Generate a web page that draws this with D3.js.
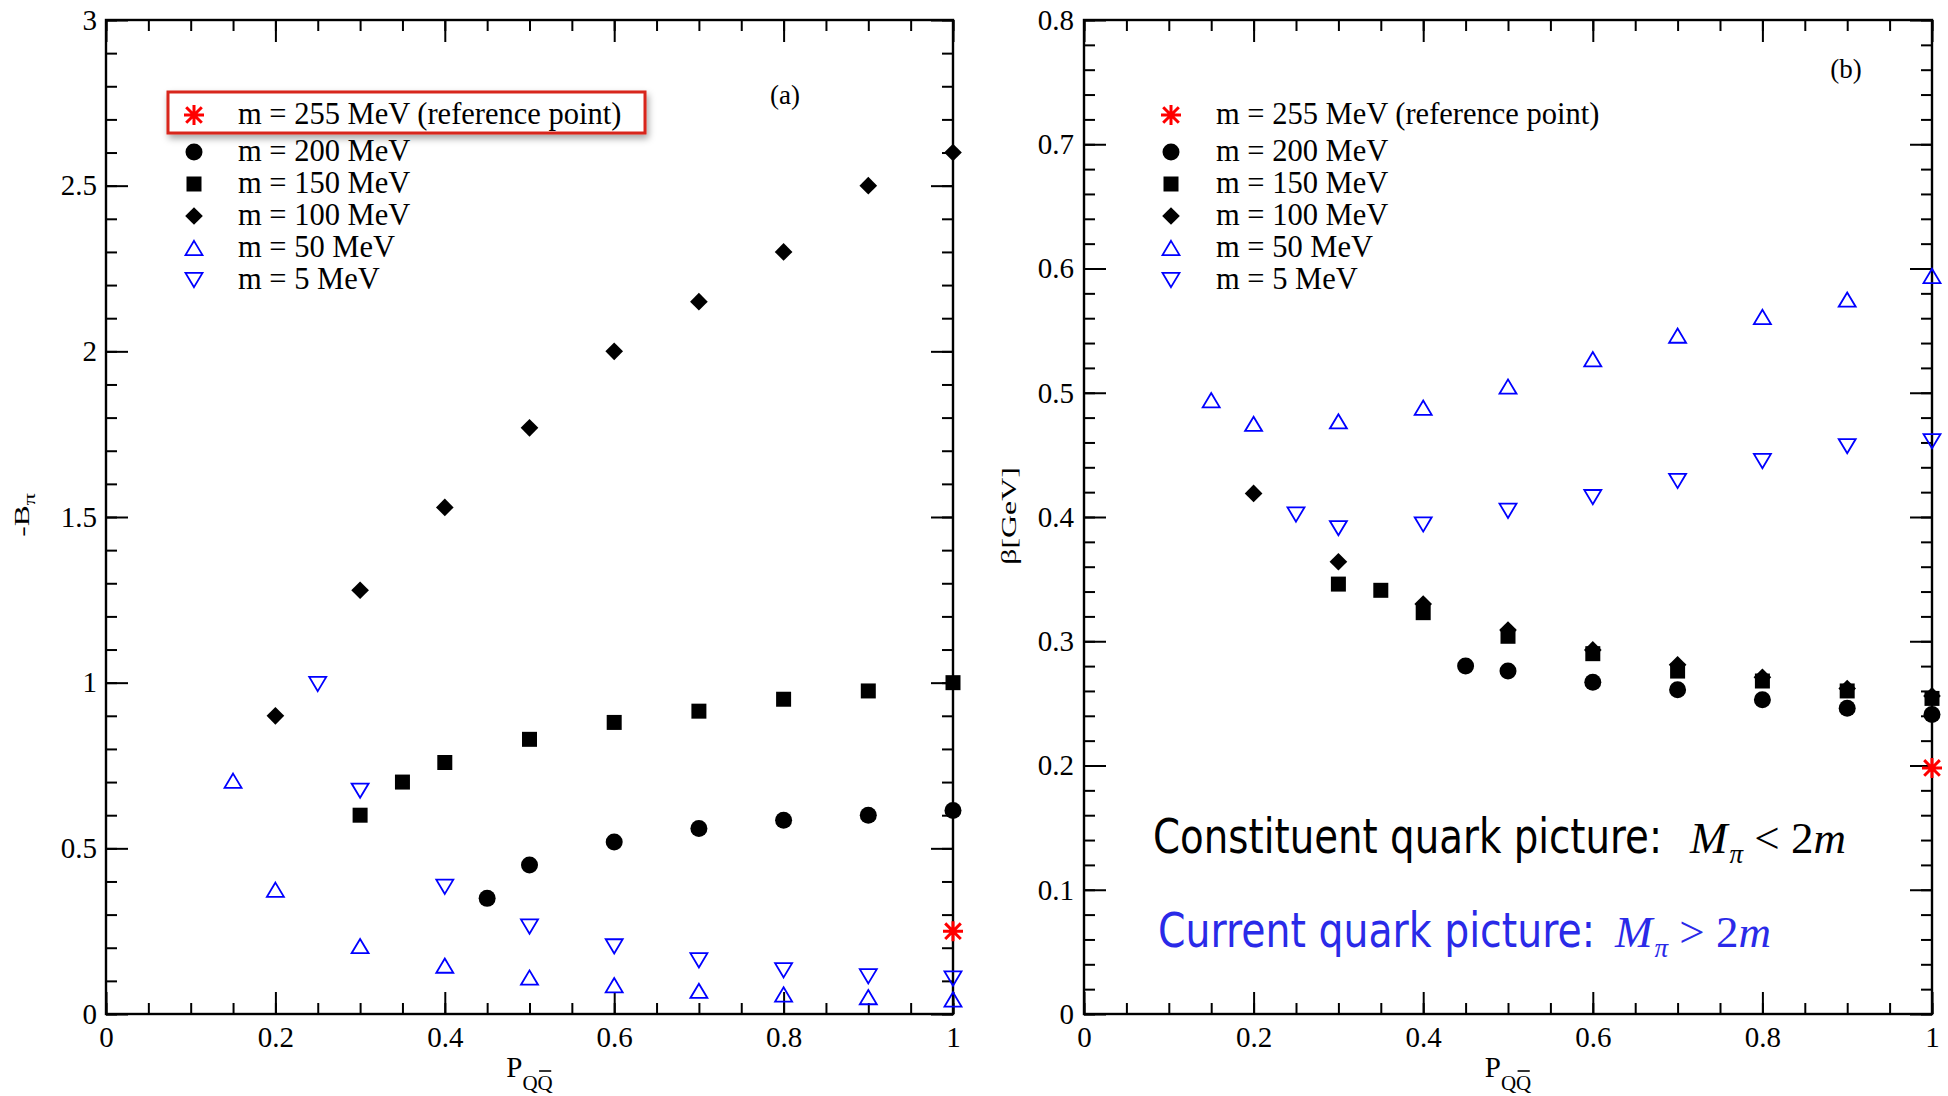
<!DOCTYPE html>
<html>
<head>
<meta charset="utf-8">
<script src="https://cdn.jsdelivr.net/npm/d3@7"></script>
<style>
  body { margin: 0; background: #fff; }
  svg { display: block; }
</style>
</head>
<body>
<svg id="chart" width="1948" height="1096"></svg>
<script>
const serif = "'Liberation Serif', 'Times New Roman', serif";

// legend text, top to bottom
const legendLabels = ["m = 255 MeV (reference point)", "m = 200 MeV", "m = 150 MeV",
                      "m = 100 MeV", "m = 50 MeV", "m = 5 MeV"];
const legendKeys = ["star", "m200", "m150", "m100", "m50", "m5"];

const xTicks = [0, 0.2, 0.4, 0.6, 0.8, 1];
const yTicksA = [0, 0.5, 1, 1.5, 2, 2.5, 3];
const yTicksB = [0, 0.1, 0.2, 0.3, 0.4, 0.5, 0.6, 0.7, 0.8];

// panel (a): -B_pi vs P_QQbar
const aStarX = [1.0];
const aStarY = [0.25];
const aM200X = [0.45, 0.5, 0.6, 0.7, 0.8, 0.9, 1.0];
const aM200Y = [0.349, 0.45, 0.519, 0.56, 0.585, 0.60, 0.614];
const aM150X = [0.3, 0.35, 0.4, 0.5, 0.6, 0.7, 0.8, 0.9, 1.0];
const aM150Y = [0.60, 0.70, 0.759, 0.829, 0.88, 0.914, 0.95, 0.975, 1.0];
const aM100X = [0.2, 0.3, 0.4, 0.5, 0.6, 0.7, 0.8, 0.9, 1.0];
const aM100Y = [0.90, 1.279, 1.529, 1.769, 2.0, 2.15, 2.30, 2.50, 2.60];
const aM50X = [0.15, 0.2, 0.3, 0.4, 0.5, 0.6, 0.7, 0.8, 0.9, 1.0];
const aM50Y = [0.704, 0.375, 0.205, 0.146, 0.11, 0.087, 0.07, 0.059, 0.051, 0.044];
const aM5X = [0.25, 0.3, 0.4, 0.5, 0.6, 0.7, 0.8, 0.9, 1.0];
const aM5Y = [0.996, 0.674, 0.384, 0.264, 0.204, 0.162, 0.132, 0.114, 0.107];

// panel (b): beta [GeV] vs P_QQbar
const bStarX = [1.0];
const bStarY = [0.198];
const bM200X = [0.45, 0.5, 0.6, 0.7, 0.8, 0.9, 1.0];
const bM200Y = [0.28, 0.276, 0.267, 0.261, 0.253, 0.246, 0.241];
const bM150X = [0.3, 0.35, 0.4, 0.5, 0.6, 0.7, 0.8, 0.9, 1.0];
const bM150Y = [0.346, 0.341, 0.323, 0.304, 0.29, 0.276, 0.268, 0.26, 0.254];
const bM100X = [0.2, 0.3, 0.4, 0.5, 0.6, 0.7, 0.8, 0.9, 1.0];
const bM100Y = [0.419, 0.364, 0.330, 0.309, 0.293, 0.281, 0.271, 0.262, 0.256];
const bM50X = [0.15, 0.2, 0.3, 0.4, 0.5, 0.6, 0.7, 0.8, 0.9, 1.0];
const bM50Y = [0.494, 0.475, 0.477, 0.488, 0.505, 0.527, 0.546, 0.561, 0.575, 0.594];
const bM5X = [0.25, 0.3, 0.4, 0.5, 0.6, 0.7, 0.8, 0.9, 1.0];
const bM5Y = [0.402, 0.391, 0.394, 0.405, 0.416, 0.429, 0.445, 0.457, 0.461];

const svg = d3.select("#chart");

// drop shadow for the boxed legend entry
svg.append("defs").append("filter")
    .attr("id", "shadow").attr("x", "-10%").attr("y", "-40%")
    .attr("width", "125%").attr("height", "200%")
  .append("feDropShadow")
    .attr("dx", 2).attr("dy", 4).attr("stdDeviation", 3.5)
    .attr("flood-color", "#000").attr("flood-opacity", 0.35);

// custom marker shapes (size = width in px)
const triUp = { draw(ctx, s) { const w = s / 2, h = s * 0.42;
  ctx.moveTo(0, -h); ctx.lineTo(w, h); ctx.lineTo(-w, h); ctx.closePath(); } };
const triDown = { draw(ctx, s) { const w = s / 2, h = s * 0.42;
  ctx.moveTo(0, h); ctx.lineTo(w, -h); ctx.lineTo(-w, -h); ctx.closePath(); } };
const asterisk = { draw(ctx, s) { const r = s / 2, d = r * 0.78;
  ctx.moveTo(-r, 0); ctx.lineTo(r, 0);
  ctx.moveTo(0, -r); ctx.lineTo(0, r);
  ctx.moveTo(-d, -d); ctx.lineTo(d, d);
  ctx.moveTo(-d, d); ctx.lineTo(d, -d); } };

const styles = {
  star: { type: asterisk, size: 20, fill: "none", stroke: "#ff0000", sw: 3, rot: 0 },
  m200: { type: d3.symbolCircle, size: Math.PI * 8.5 * 8.5, fill: "#000", stroke: "none", sw: 0, rot: 0 },
  m150: { type: d3.symbolSquare, size: 15 * 15, fill: "#000", stroke: "none", sw: 0, rot: 0 },
  m100: { type: d3.symbolSquare, size: 12.5 * 12.5, fill: "#000", stroke: "none", sw: 0, rot: 45 },
  m50:  { type: triUp, size: 17, fill: "none", stroke: "#0000ff", sw: 1.8, rot: 0 },
  m5:   { type: triDown, size: 17, fill: "none", stroke: "#0000ff", sw: 1.8, rot: 0 }
};

function marker(sel, key) {
  const st = styles[key];
  sel.attr("d", d3.symbol().type(st.type).size(st.size)())
     .attr("fill", st.fill)
     .attr("stroke", st.stroke)
     .attr("stroke-width", st.sw);
}

function styleAxis(g, fontSize) {
  g.select(".domain").remove();
  g.selectAll("line").attr("stroke", "#000").attr("stroke-width", 2);
  g.attr("font-family", serif).attr("font-size", fontSize);
  g.selectAll("text").attr("fill", "#000");
}

function drawPanel(p) {
  const x = d3.scaleLinear().domain([0, 1]).range([p.left, p.right]);
  const y = d3.scaleLinear().domain(p.yDomain).range([p.bottom, p.top]);
  const g = svg.append("g");
  const fmt = d3.format("~g");
  const xMinor = d3.ticks(0, 1, 20);
  const yMinor = d3.ticks(p.yDomain[0], p.yDomain[1], p.yMinorCount);

  // bottom
  g.append("g").attr("transform", `translate(0,${p.bottom})`)
    .call(d3.axisBottom(x).tickValues(xMinor).tickSize(-11).tickSizeOuter(0).tickFormat(""))
    .call(a => styleAxis(a, 29));
  g.append("g").attr("transform", `translate(0,${p.bottom})`)
    .call(d3.axisBottom(x).tickValues(xTicks).tickSize(-22).tickSizeOuter(0).tickPadding(12).tickFormat(fmt))
    .call(a => styleAxis(a, 29));
  // top
  g.append("g").attr("transform", `translate(0,${p.top})`)
    .call(d3.axisTop(x).tickValues(xMinor).tickSize(-11).tickSizeOuter(0).tickFormat(""))
    .call(a => styleAxis(a, 29));
  g.append("g").attr("transform", `translate(0,${p.top})`)
    .call(d3.axisTop(x).tickValues(xTicks).tickSize(-22).tickSizeOuter(0).tickFormat(""))
    .call(a => styleAxis(a, 29));
  // left
  g.append("g").attr("transform", `translate(${p.left},0)`)
    .call(d3.axisLeft(y).tickValues(yMinor).tickSize(-11).tickSizeOuter(0).tickFormat(""))
    .call(a => styleAxis(a, 29));
  g.append("g").attr("transform", `translate(${p.left},0)`)
    .call(d3.axisLeft(y).tickValues(p.yTicks).tickSize(-22).tickSizeOuter(0).tickPadding(p.yPad).tickFormat(fmt))
    .call(a => styleAxis(a, 29));
  // right
  g.append("g").attr("transform", `translate(${p.right},0)`)
    .call(d3.axisRight(y).tickValues(yMinor).tickSize(-11).tickSizeOuter(0).tickFormat(""))
    .call(a => styleAxis(a, 29));
  g.append("g").attr("transform", `translate(${p.right},0)`)
    .call(d3.axisRight(y).tickValues(p.yTicks).tickSize(-22).tickSizeOuter(0).tickFormat(""))
    .call(a => styleAxis(a, 29));

  g.append("rect")
    .attr("x", p.left).attr("y", p.top)
    .attr("width", p.right - p.left).attr("height", p.bottom - p.top)
    .attr("fill", "none").attr("stroke", "#000").attr("stroke-width", 2.4);

  // x label  P_{Q Qbar}
  const cx = (p.left + p.right) / 2;
  const xl = g.append("text")
    .attr("x", cx).attr("y", 1077)
    .attr("text-anchor", "middle")
    .attr("font-family", serif).attr("font-size", 29);
  xl.append("tspan").text("P");
  xl.append("tspan").attr("font-size", 21).attr("dy", 13).text("Q");
  xl.append("tspan").attr("font-size", 21).text("Q");
  const ext = xl.node().getExtentOfChar(2);
  g.append("line")
    .attr("x1", ext.x + 1.5).attr("x2", ext.x + ext.width - 1.5)
    .attr("y1", 1071).attr("y2", 1071)
    .attr("stroke", "#000").attr("stroke-width", 1.6);

  // y label
  const yl = g.append("text")
    .attr("transform", p.yLabelTransform)
    .attr("text-anchor", "middle")
    .attr("font-family", serif).attr("font-size", p.yLabelSize);
  p.yLabel(yl);

  // panel tag
  g.append("text")
    .attr("x", p.tagX).attr("y", p.tagY)
    .attr("text-anchor", "middle")
    .attr("font-family", serif).attr("font-size", 27)
    .text(p.tag);

  // marks
  p.series.forEach(s => {
    g.append("g").selectAll("path")
      .data(d3.zip(s.xs, s.ys))
      .join("path")
      .call(sel => marker(sel, s.key))
      .attr("transform", d => `translate(${x(d[0])},${y(d[1])}) rotate(${styles[s.key].rot})`);
  });

  // legend
  const rows = [115, 152, 184, 216, 248, 280];
  if (p.box) {
    g.append("rect")
      .attr("x", 168).attr("y", 92).attr("width", 477).attr("height", 41)
      .attr("fill", "#fff").attr("stroke", "#d8261c").attr("stroke-width", 3)
      .attr("filter", "url(#shadow)");
  }
  const lg = g.append("g").selectAll("g")
    .data(legendKeys)
    .join("g")
    .attr("transform", (d, i) => `translate(0,${rows[i]})`);
  lg.append("path")
    .each(function(d) { marker(d3.select(this), d); })
    .attr("transform", d => `translate(${p.legendSymX},0) rotate(${styles[d].rot})`);
  lg.append("text")
    .attr("x", p.legendTextX).attr("y", 9)
    .attr("font-family", serif).attr("font-size", 30.5)
    .text((d, i) => legendLabels[i]);
}

drawPanel({
  left: 106, right: 953, top: 20, bottom: 1014,
  yDomain: [0, 3], yTicks: yTicksA, yMinorCount: 30, yPad: 9,
  tag: "(a)", tagX: 785, tagY: 104,
  yLabelTransform: "translate(29,515) rotate(-90) scale(1.5,1)", yLabelSize: 21,
  yLabel: t => { t.append("tspan").text("-B"); t.append("tspan").attr("font-size", 16).attr("dy", 6).text("π"); },
  box: true, legendSymX: 194, legendTextX: 238,
  series: [
    { key: "m5", xs: aM5X, ys: aM5Y },
    { key: "m50", xs: aM50X, ys: aM50Y },
    { key: "m100", xs: aM100X, ys: aM100Y },
    { key: "m150", xs: aM150X, ys: aM150Y },
    { key: "m200", xs: aM200X, ys: aM200Y },
    { key: "star", xs: aStarX, ys: aStarY }
  ]
});

drawPanel({
  left: 1084, right: 1932, top: 20, bottom: 1014,
  yDomain: [0, 0.8], yTicks: yTicksB, yMinorCount: 40, yPad: 10,
  tag: "(b)", tagX: 1846, tagY: 78,
  yLabelTransform: "translate(1016,516) rotate(-90) scale(1.45,1)", yLabelSize: 22,
  yLabel: t => { t.text("β[GeV]"); },
  box: false, legendSymX: 1171, legendTextX: 1216,
  series: [
    { key: "m5", xs: bM5X, ys: bM5Y },
    { key: "m50", xs: bM50X, ys: bM50Y },
    { key: "m100", xs: bM100X, ys: bM100Y },
    { key: "m150", xs: bM150X, ys: bM150Y },
    { key: "m200", xs: bM200X, ys: bM200Y },
    { key: "star", xs: bStarX, ys: bStarY }
  ]
});

// annotations in panel (b): words in a sans face, the relation in serif italic
function note(x0, base, wordsLen, mathX, words, rel, color) {
  svg.append("text")
    .attr("x", x0).attr("y", base)
    .attr("font-family", "'DejaVu Sans', Verdana, sans-serif").attr("font-size", 48)
    .attr("textLength", wordsLen).attr("lengthAdjust", "spacingAndGlyphs")
    .attr("fill", color)
    .text(words);
  const m = svg.append("text")
    .attr("x", mathX).attr("y", base)
    .attr("font-family", serif).attr("font-size", 45)
    .attr("fill", color)
    .style("white-space", "pre");
  m.append("tspan").attr("font-style", "italic").text("M");
  m.append("tspan").attr("dx", 2).attr("dy", 10).attr("font-size", 27).attr("font-style", "italic").text("π");
  m.append("tspan").attr("dy", -10).text(" " + rel + " 2");
  m.append("tspan").attr("font-style", "italic").text("m");
}
note(1153, 853, 509, 1690, "Constituent quark picture:", "<", "#000");
note(1158, 947, 437, 1615, "Current quark picture:", ">", "#2a2ae8");
</script>
</body>
</html>
